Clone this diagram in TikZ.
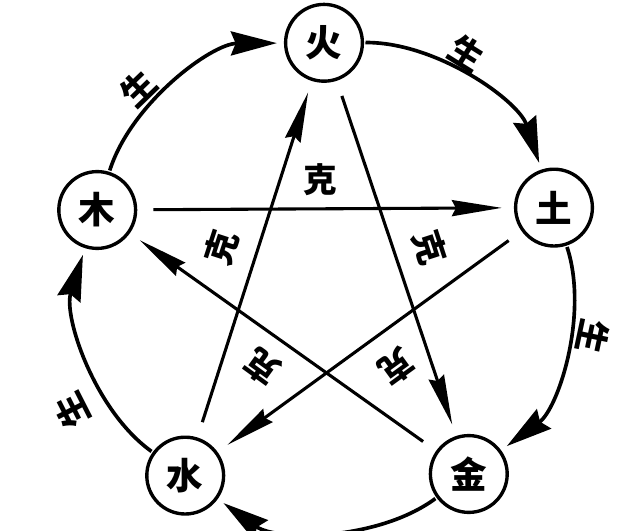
\documentclass[tikz,border=0pt]{standalone}
\usepackage{fontspec}
\newfontfamily\cjk{Noto Sans CJK SC}
\usetikzlibrary{arrows.meta}

\begin{document}
\begin{tikzpicture}[
    >=Stealth,
    element/.style={
        circle, draw,
        line width=2.4pt,
        inner sep=0pt,
        minimum size=1.92cm,
        font=\cjk\bfseries\fontsize{26}{26}\selectfont
    },
    sheng/.style={
        line width=2.6pt,
        -{Stealth[length=1.15cm,width=0.6cm,inset=0.12cm]},
        looseness=0.85,
        shorten <=1pt,
        shorten >=5pt
    },
    ke/.style={
        line width=2.2pt,
        -{Stealth[length=1.25cm,width=0.4cm,inset=0.1cm]},
        shorten <=0.4cm,
        shorten >=0.3cm
    },
    shenglabel/.style={
        inner sep=0pt,
        font=\cjk\bfseries\fontsize{24}{24}\selectfont
    },
    kelabel/.style={
        inner sep=0pt,
        font=\cjk\bfseries\fontsize{24}{24}\selectfont
    }
]

\useasboundingbox (0,0) rectangle (16,13.25);


\node[element] (huo)   at ( 8.10,12.18) {火};
\node[element] (tu)    at (13.85, 8.06) {土};
\node[element] (jin)   at (11.72, 1.40) {金};
\node[element] (shui)  at ( 4.63, 1.36) {水};
\node[element] (mu)    at ( 2.43, 8.00) {木};


\draw[sheng] (mu)   to[bend left=36] (huo);
\draw[sheng] (huo)  to[bend left=36] (tu);
\draw[sheng] (tu)   to[bend left=36] (jin);
\draw[sheng] (jin)  to[bend left=36] (shui);
\draw[sheng] (shui) to[bend left=36] (mu);

\node[shenglabel,rotate=44]   (s1) at ( 3.45,11.05) {生};
\node[shenglabel,rotate=-32]  (s2) at (11.67,11.92) {生};
\node[shenglabel,rotate=-102] (s3) at (14.82, 4.82) {生};
\node[shenglabel,rotate=117]  (s4) at ( 1.80, 3.00) {生};


\draw[ke] (mu)   -- (tu);
\draw[ke] (tu)   -- (shui);
\draw[ke] (shui) -- (huo);
\draw[ke] (huo)  -- (jin);
\draw[ke] (jin)  -- (mu);

\node[kelabel]            (k1) at ( 8.00, 8.75) {克};
\node[kelabel,rotate=72]  (k2) at ( 5.55, 7.05) {克};
\node[kelabel,rotate=-72] (k3) at (10.75, 7.07) {克};
\node[kelabel,rotate=144] (k4) at ( 6.55, 4.07) {克};
\node[kelabel,rotate=-144](k5) at ( 9.92, 4.07) {克};

\end{tikzpicture}
\end{document}
